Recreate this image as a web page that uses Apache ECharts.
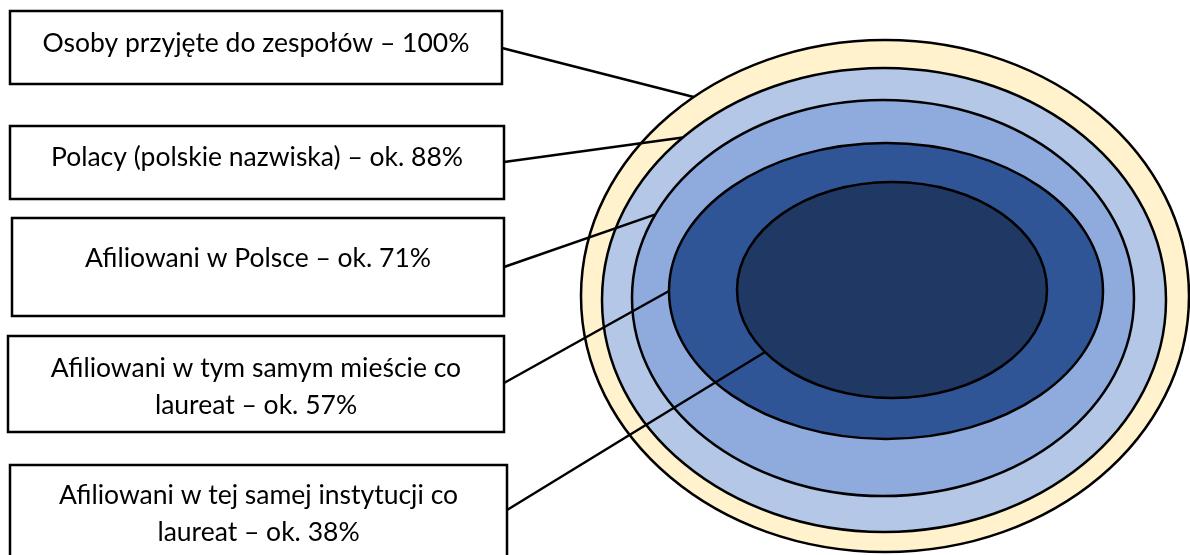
<!DOCTYPE html>
<html>
<head>
<meta charset="utf-8">
<script src="https://cdn.jsdelivr.net/npm/echarts@6/dist/echarts.min.js"></script>
<style>
html,body{margin:0;padding:0;background:#ffffff;}
#chart{width:1190px;height:555px;}
</style>
</head>
<body>
<div id="chart"></div>
<script>
// ---- data ----
const categories = [
  'Osoby przyjęte do zespołów',
  'Polacy (polskie nazwiska)',
  'Afiliowani w Polsce',
  'Afiliowani w tym samym mieście co\nlaureat',
  'Afiliowani w tej samej instytucji co\nlaureat'
];
const values = [100, 88, 71, 57, 38];
const approx = [false, true, true, true, true];

// ---- styles ----
const ringColors = ['#FFF2CC', '#B4C7E7', '#8FAADC', '#2F5597', '#203864'];
const FONT = '26.5px Lato, "Open Sans", sans-serif';

// ---- layout (canvas units, y downwards) ----
const ringLayout = [
  { cx: 885, cy: 296, rx: 304, ry: 256 },
  { cx: 884, cy: 300, rx: 282, ry: 232 },
  { cx: 883, cy: 298, rx: 251, ry: 198 },
  { cx: 886, cy: 291, rx: 217, ry: 148 },
  { cx: 892, cy: 290, rx: 155, ry: 108 }
];
const boxLayout = [
  { x: 10, y: 11, w: 492, h: 73, ty: 43, ly: 48 },
  { x: 10, y: 126, w: 494, h: 73, ty: 157, ly: 162 },
  { x: 12, y: 218, w: 492, h: 98, ty: 258, ly: 267 },
  { x: 8, y: 336, w: 496, h: 96, ty: 386.5, ly: 383 },
  { x: 10, y: 465, w: 497, h: 110, ty: 513.5, ly: 510 }
];
const anchorAngles = [-129, -135.5, -155, 180, 145];

function labelText(i) {
  return categories[i] + ' – ' + (approx[i] ? 'ok. ' : '') + values[i] + '%';
}

const seriesData = values.map((v, i) => [i, v]);

const chart = echarts.init(document.getElementById('chart'), null, { renderer: 'canvas' });

chart.setOption({
  animation: false,
  backgroundColor: '#ffffff',
  grid: { left: 0, right: 0, top: 0, bottom: 0 },
  xAxis: { type: 'value', min: 0, max: 1190, show: false },
  yAxis: { type: 'value', min: 0, max: 555, inverse: true, show: false },
  series: [
    {
      name: 'rings',
      type: 'custom',
      coordinateSystem: 'cartesian2d',
      data: seriesData,
      z: 1,
      renderItem: function (params, api) {
        const i = api.value(0);
        const r = ringLayout[i];
        const c = api.coord([r.cx, r.cy]);
        const s = api.size([r.rx, r.ry]);
        return {
          type: 'ellipse',
          shape: { cx: c[0], cy: c[1], rx: s[0], ry: s[1] },
          style: { fill: ringColors[i], stroke: '#000000', lineWidth: 2.5 }
        };
      }
    },
    {
      name: 'boxes',
      type: 'custom',
      coordinateSystem: 'cartesian2d',
      data: seriesData,
      z: 3,
      renderItem: function (params, api) {
        const i = api.value(0);
        const b = boxLayout[i];
        const p0 = api.coord([b.x, b.y]);
        const sz = api.size([b.w, b.h]);
        const tc = api.coord([b.x + b.w / 2, b.ty]);
        return {
          type: 'group',
          children: [
            {
              type: 'rect',
              shape: { x: p0[0], y: p0[1], width: sz[0], height: sz[1] },
              style: { fill: '#ffffff', stroke: '#000000', lineWidth: 2.5 }
            },
            {
              type: 'text',
              style: {
                text: labelText(i),
                x: tc[0],
                y: tc[1],
                align: 'center',
                verticalAlign: 'middle',
                font: FONT,
                lineHeight: 37,
                fill: '#000000'
              }
            }
          ]
        };
      }
    },
    {
      name: 'connectors',
      type: 'custom',
      coordinateSystem: 'cartesian2d',
      data: seriesData,
      z: 4,
      renderItem: function (params, api) {
        const i = api.value(0);
        const b = boxLayout[i];
        const r = ringLayout[i];
        const a = anchorAngles[i] * Math.PI / 180;
        const p1 = api.coord([b.x + b.w, b.ly]);
        const p2 = api.coord([r.cx + r.rx * Math.cos(a), r.cy + r.ry * Math.sin(a)]);
        return {
          type: 'line',
          shape: { x1: p1[0], y1: p1[1], x2: p2[0], y2: p2[1] },
          style: { stroke: '#000000', lineWidth: 2.5 }
        };
      }
    }
  ]
});
</script>
</body>
</html>
